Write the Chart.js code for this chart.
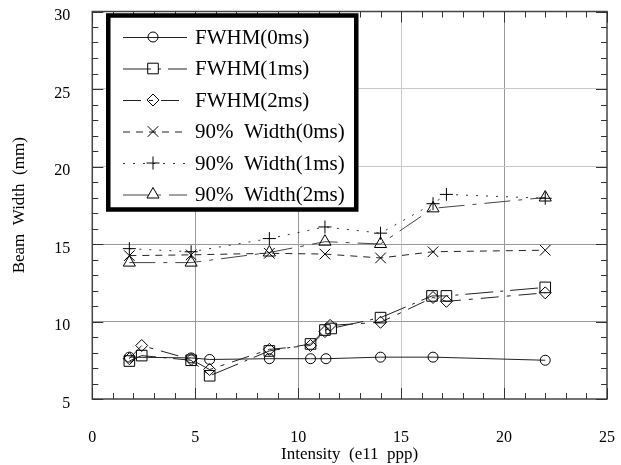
<!DOCTYPE html>
<html><head><meta charset="utf-8">
<script src="https://cdn.jsdelivr.net/npm/chart.js@4/dist/chart.umd.min.js"></script>
<style>html,body{margin:0;padding:0;background:#fff;}canvas{display:block;}</style>
</head><body>
<canvas id="c" width="621" height="465"></canvas>
<script>
// ---- data ----
const xTicks = [0, 5, 10, 15, 20, 25];
const yTicks = [5, 10, 15, 20, 25, 30];
const seriesNames = ['FWHM(0ms)', 'FWHM(1ms)', 'FWHM(2ms)', '90%  Width(0ms)', '90%  Width(1ms)', '90%  Width(2ms)'];
const xTitle = 'Intensity  (e11  ppp)';
const yTitle = 'Beam  Width  (mm)';

const fwhm0X = [1.8, 4.8, 5.7, 8.6, 10.6, 11.35, 14.0, 16.55, 22.0];
const fwhm0Y = [7.7, 7.65, 7.55, 7.6, 7.6, 7.6, 7.7, 7.7, 7.5];
const fwhm1X = [1.8, 2.4, 4.8, 5.7, 8.6, 10.6, 11.3, 11.6, 14.0, 16.5, 17.2, 22.0];
const fwhm1Y = [7.45, 7.8, 7.5, 6.5, 8.1, 8.55, 9.45, 9.55, 10.25, 11.65, 11.65, 12.2];
const fwhm2X = [1.8, 2.4, 4.8, 5.7, 8.6, 10.6, 11.3, 11.55, 14.0, 16.55, 17.2, 22.0];
const fwhm2Y = [7.6, 8.45, 7.55, 6.9, 8.2, 8.45, 9.35, 9.75, 9.95, 11.55, 11.3, 11.85];
const w90a0X = [1.8, 4.8, 8.6, 11.3, 14.0, 16.55, 22.0];
const w90a0Y = [14.25, 14.3, 14.4, 14.35, 14.1, 14.5, 14.6];
const w90a1X = [1.8, 4.8, 8.6, 11.3, 14.0, 16.55, 17.2, 22.0];
const w90a1Y = [14.7, 14.5, 15.35, 16.1, 15.7, 17.6, 18.2, 17.95];
const w90a2X = [1.8, 4.8, 8.6, 11.3, 14.0, 16.55, 22.0];
const w90a2Y = [13.8, 13.8, 14.45, 15.15, 15.0, 17.3, 18.0];

// ---- styles ----
const FONT = '"Liberation Serif", "Times New Roman", serif';
const styles = [
  {pointStyle: 'circle',   radius: 5,   dash: [],            color: '#222'},
  {pointStyle: 'rect',     radius: 7.5, dash: [28, 7, 3, 7], color: '#222'},
  {pointStyle: 'rectRot',  radius: 6,   dash: [18, 8, 4, 8], color: '#222'},
  {pointStyle: 'crossRot', radius: 7.5, dash: [7, 6],        color: '#222'},
  {pointStyle: 'cross',    radius: 6.5, dash: [2, 8],        color: '#333'},
  {pointStyle: 'triangle', radius: 7,   dash: [26, 8, 4, 8], color: '#444'}
];
const xs = [fwhm0X, fwhm1X, fwhm2X, w90a0X, w90a1X, w90a2X];
const ys = [fwhm0Y, fwhm1Y, fwhm2Y, w90a0Y, w90a1Y, w90a2Y];

const datasets = seriesNames.map((name, i) => ({
  label: name,
  data: xs[i].map((x, k) => ({x: x, y: ys[i][k]})),
  showLine: true,
  borderColor: styles[i].color,
  borderWidth: 1,
  borderDash: styles[i].dash,
  pointStyle: styles[i].pointStyle,
  pointRadius: styles[i].radius,
  pointBorderColor: '#000',
  pointBackgroundColor: 'rgba(0,0,0,0)',
  pointBorderWidth: 1,
  fill: false,
  tension: 0
}));

function gridColor(axis) {
  return (ctx) => {
    const v = ctx.tick ? ctx.tick.value : null;
    const light = axis === 'x' ? [15] : [20, 25];
    const ticks = axis === 'x' ? xTicks : yTicks;
    if (v === ticks[0] || v === ticks[ticks.length - 1]) return 'rgba(0,0,0,0)';
    return light.includes(v) ? '#c8c8c8' : '#999';
  };
}

const frameTicks = {
  id: 'frameTicks',
  beforeDatasetsDraw(chart) {
    const {ctx, chartArea: a, scales: {x, y}} = chart;
    ctx.save();
    ctx.strokeStyle = '#444';
    ctx.lineWidth = 1.5;
    ctx.strokeRect(a.left, a.top, a.right - a.left, a.bottom - a.top);
    ctx.lineWidth = 1;
    ctx.strokeStyle = '#333';
    ctx.beginPath();
    for (let v = xTicks[0]; v <= xTicks[xTicks.length - 1]; v += 1) {
      const px = Math.round(x.getPixelForValue(v)) + 0.5;
      const len = v % 5 === 0 ? 11 : 6;
      ctx.moveTo(px, a.bottom); ctx.lineTo(px, a.bottom - len);
      ctx.moveTo(px, a.top); ctx.lineTo(px, a.top + len);
    }
    for (let v = yTicks[0]; v <= yTicks[yTicks.length - 1]; v += 1) {
      const py = Math.round(y.getPixelForValue(v)) + 0.5;
      const len = v % 5 === 0 ? 11 : 6;
      ctx.moveTo(a.left, py); ctx.lineTo(a.left + len, py);
      ctx.moveTo(a.right, py); ctx.lineTo(a.right - len, py);
    }
    ctx.stroke();
    ctx.restore();
  }
};

function drawMarker(ctx, style, x, y) {
  const opts = {pointStyle: style.pointStyle, radius: style.radius, rotation: 0, borderWidth: 1};
  ctx.fillStyle = 'rgba(0,0,0,0)';
  ctx.strokeStyle = '#000';
  ctx.lineWidth = 1;
  ctx.setLineDash([]);
  if (Chart.helpers && Chart.helpers.drawPoint) {
    Chart.helpers.drawPoint(ctx, opts, x, y);
  } else {
    ctx.beginPath(); ctx.arc(x, y, style.radius, 0, Math.PI * 2); ctx.stroke();
  }
}

const boxLegend = {
  id: 'boxLegend',
  afterDraw(chart) {
    const ctx = chart.ctx;
    const box = {left: 108.25, top: 15.5, width: 248, height: 194};
    ctx.save();
    ctx.fillStyle = '#fff';
    ctx.fillRect(box.left, box.top, box.width, box.height);
    ctx.lineWidth = 4.5;
    ctx.strokeStyle = '#000';
    ctx.setLineDash([]);
    ctx.strokeRect(box.left, box.top, box.width, box.height);
    const rowY0 = 37, rowStep = 31.5;
    seriesNames.forEach((name, i) => {
      const ry = rowY0 + i * rowStep;
      ctx.strokeStyle = styles[i].color;
      ctx.lineWidth = 1;
      ctx.setLineDash(styles[i].dash);
      ctx.beginPath();
      ctx.moveTo(123, ry + 0.5);
      ctx.lineTo(187, ry + 0.5);
      ctx.stroke();
      drawMarker(ctx, styles[i], 153, ry);
      ctx.setLineDash([]);
      ctx.fillStyle = '#000';
      ctx.font = '21px ' + FONT;
      ctx.textAlign = 'left';
      ctx.textBaseline = 'middle';
      ctx.fillText(name, 195, ry + 1);
    });
    ctx.restore();
  }
};

new Chart(document.getElementById('c'), {
  type: 'scatter',
  data: {datasets},
  options: {
    responsive: false,
    animation: false,
    devicePixelRatio: 1,
    layout: {autoPadding: false, padding: {top: 11.5, right: 14, left: 0, bottom: 0}},
    plugins: {legend: {display: false}, tooltip: {enabled: false}},
    scales: {
      x: {
        type: 'linear', min: xTicks[0], max: xTicks[xTicks.length - 1],
        afterBuildTicks: (s) => { s.ticks = xTicks.map(v => ({value: v})); },
        afterFit: (s) => { s.height = 66; },
        ticks: {font: {family: FONT, size: 16}, color: '#000', padding: 0, maxRotation: 0},
        grid: {drawTicks: true, tickLength: 29, tickColor: 'rgba(0,0,0,0)', color: gridColor('x'), lineWidth: 1},
        border: {display: false},
        title: {display: true, text: xTitle, font: {family: FONT, size: 17}, color: '#000', padding: {top: 0, bottom: 0}}
      },
      y: {
        type: 'linear', min: yTicks[0], max: yTicks[yTicks.length - 1],
        afterBuildTicks: (s) => { s.ticks = yTicks.map(v => ({value: v})); },
        afterFit: (s) => { s.width = 92.3; },
        ticks: {font: {family: FONT, size: 16}, color: '#000', padding: 0, labelOffset: 4.5},
        grid: {drawTicks: true, tickLength: 22, tickColor: 'rgba(0,0,0,0)', color: gridColor('y'), lineWidth: 1},
        border: {display: false},
        title: {display: true, text: yTitle, font: {family: FONT, size: 17}, color: '#000', padding: {top: 9, bottom: 0}}
      }
    }
  },
  plugins: [frameTicks, boxLegend]
});
</script>
</body></html>
